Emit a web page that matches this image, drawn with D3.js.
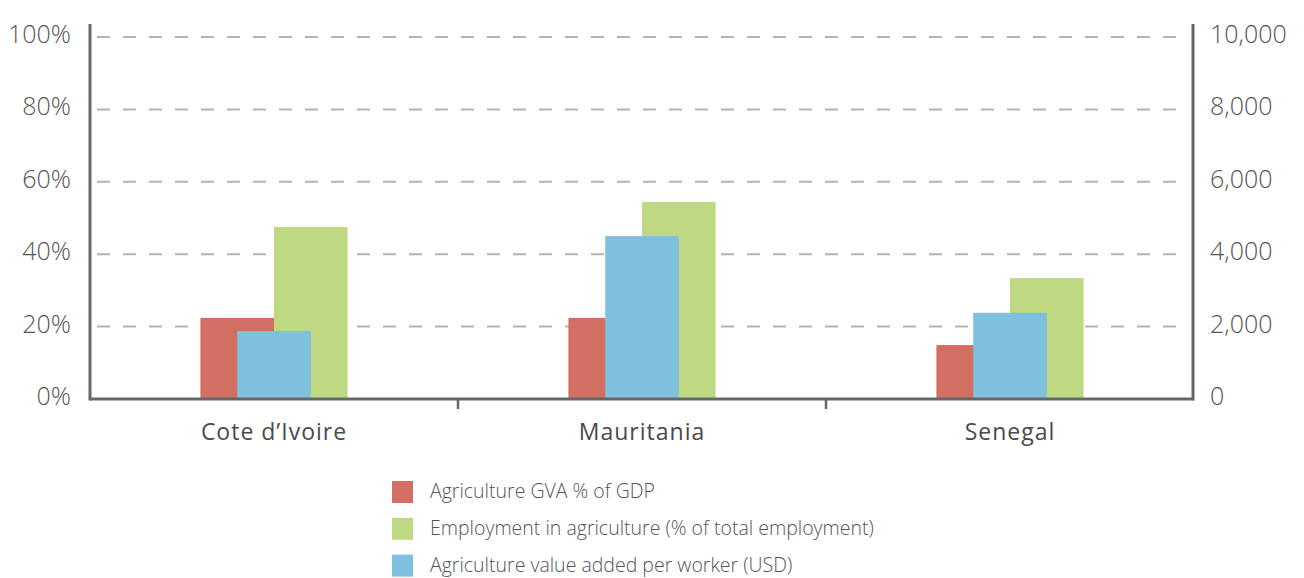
<!DOCTYPE html>
<html>
<head>
<meta charset="utf-8">
<script src="https://cdn.jsdelivr.net/npm/d3@7"></script>
<style>
  html, body { margin: 0; padding: 0; background: #fff; }
  svg { display: block; }
  text { font-family: "Open Sans", "Noto Sans", sans-serif; }
</style>
</head>
<body>
<svg id="chart" width="1304" height="578"></svg>
<script>
// ---- data ----
const categories = ["Cote d\u2019Ivoire", "Mauritania", "Senegal"];
const gvaShare = [22.4, 22.4, 14.9];          // % of GDP (left axis)
const employmentShare = [47.5, 54.4, 33.4];   // % of total employment (left axis)
const valuePerWorker = [1880, 4500, 2380];    // USD (right axis)
const leftTicks = [0, 20, 40, 60, 80, 100];
const rightTicks = [0, 2000, 4000, 6000, 8000, 10000];
const seriesNames = [
  "Agriculture GVA % of GDP",
  "Employment in agriculture (% of total employment)",
  "Agriculture value added per worker (USD)"
];
const colors = ["#d36e62", "#bed982", "#7fc0de"];

// ---- layout ----
const svg = d3.select("#chart");
const mLeft = 90, mRight = 1193, mTop = 37, mBottom = 399;

const x = d3.scaleBand().domain(categories).range([mLeft, mRight + 1]).paddingInner(0).paddingOuter(0);
const yL = d3.scaleLinear().domain([0, 100]).range([mBottom, mTop]);
const yR = d3.scaleLinear().domain([0, 10000]).range([mBottom, mTop]);
const barW = x.bandwidth() * 0.2;

// gridlines
svg.append("g").selectAll("line").data(leftTicks.filter(d => d > 0)).join("line")
  .attr("x1", mLeft + 7).attr("x2", mRight - 7)
  .attr("y1", d => yL(d)).attr("y2", d => yL(d))
  .attr("stroke", "#b3b3b3").attr("stroke-width", 2)
  .attr("stroke-dasharray", "13,13");

// bars: red, green, then blue on top
const cx = c => x(c) + x.bandwidth() / 2;
const bars = svg.append("g");
bars.selectAll("rect.gva").data(categories).join("rect").attr("class", "gva")
  .attr("x", (c) => cx(c) - barW).attr("width", barW)
  .attr("y", (c, i) => yL(gvaShare[i])).attr("height", (c, i) => mBottom - yL(gvaShare[i]))
  .attr("fill", colors[0]);
bars.selectAll("rect.emp").data(categories).join("rect").attr("class", "emp")
  .attr("x", (c) => cx(c)).attr("width", barW)
  .attr("y", (c, i) => yL(employmentShare[i])).attr("height", (c, i) => mBottom - yL(employmentShare[i]))
  .attr("fill", colors[1]);
bars.selectAll("rect.vpw").data(categories).join("rect").attr("class", "vpw")
  .attr("x", (c) => cx(c) - barW * 0.5).attr("width", barW)
  .attr("y", (c, i) => yR(valuePerWorker[i])).attr("height", (c, i) => mBottom - yR(valuePerWorker[i]))
  .attr("fill", colors[2]);

// axes
const axisColor = "#666";
const leftAxis = svg.append("g").attr("transform", `translate(${mLeft},0)`)
  .call(d3.axisLeft(yL).tickValues(leftTicks).tickFormat(d => d + "%").tickSize(0).tickPadding(19));
leftAxis.select(".domain").remove();
leftAxis.selectAll("text").attr("font-size", 25).attr("font-weight", 300).attr("fill", "#555").attr("dy", "0.22em");

const rightAxis = svg.append("g").attr("transform", `translate(${mRight},0)`)
  .call(d3.axisRight(yR).tickValues(rightTicks).tickFormat(d3.format(",")).tickSize(0).tickPadding(17));
rightAxis.select(".domain").remove();
rightAxis.selectAll("text").attr("font-size", 25).attr("font-weight", 300).attr("fill", "#555").attr("dy", "0.22em");

svg.append("line").attr("x1", mLeft).attr("x2", mLeft).attr("y1", 24).attr("y2", mBottom + 1.5)
  .attr("stroke", axisColor).attr("stroke-width", 3);
svg.append("line").attr("x1", mRight).attr("x2", mRight).attr("y1", 24).attr("y2", mBottom + 1.5)
  .attr("stroke", axisColor).attr("stroke-width", 3);

const xAxis = svg.append("g").attr("transform", `translate(0,${mBottom})`)
  .call(d3.axisBottom(x).tickSize(0).tickPadding(25));
xAxis.select(".domain").remove();
xAxis.selectAll("text").attr("font-size", 23).attr("letter-spacing", 1).attr("fill", "#4a4a4a");
svg.append("line").attr("x1", mLeft).attr("x2", mRight).attr("y1", mBottom).attr("y2", mBottom)
  .attr("stroke", axisColor).attr("stroke-width", 3);
// category separators
svg.append("g").selectAll("line").data(categories.slice(1)).join("line")
  .attr("x1", c => x(c)).attr("x2", c => x(c))
  .attr("y1", mBottom).attr("y2", mBottom + 10)
  .attr("stroke", axisColor).attr("stroke-width", 2.5);

// legend
const legend = svg.append("g").attr("transform", "translate(392,481)");
const li = legend.selectAll("g").data(seriesNames).join("g")
  .attr("transform", (d, i) => `translate(0,${i * 36.8})`);
li.append("rect").attr("width", 21).attr("height", 22).attr("fill", (d, i) => colors[i]);
li.append("text").attr("x", 38).attr("y", 11).attr("dy", "0.33em")
  .attr("font-size", 19.5).attr("font-weight", 300).attr("fill", "#555").text(d => d);
</script>
</body>
</html>
